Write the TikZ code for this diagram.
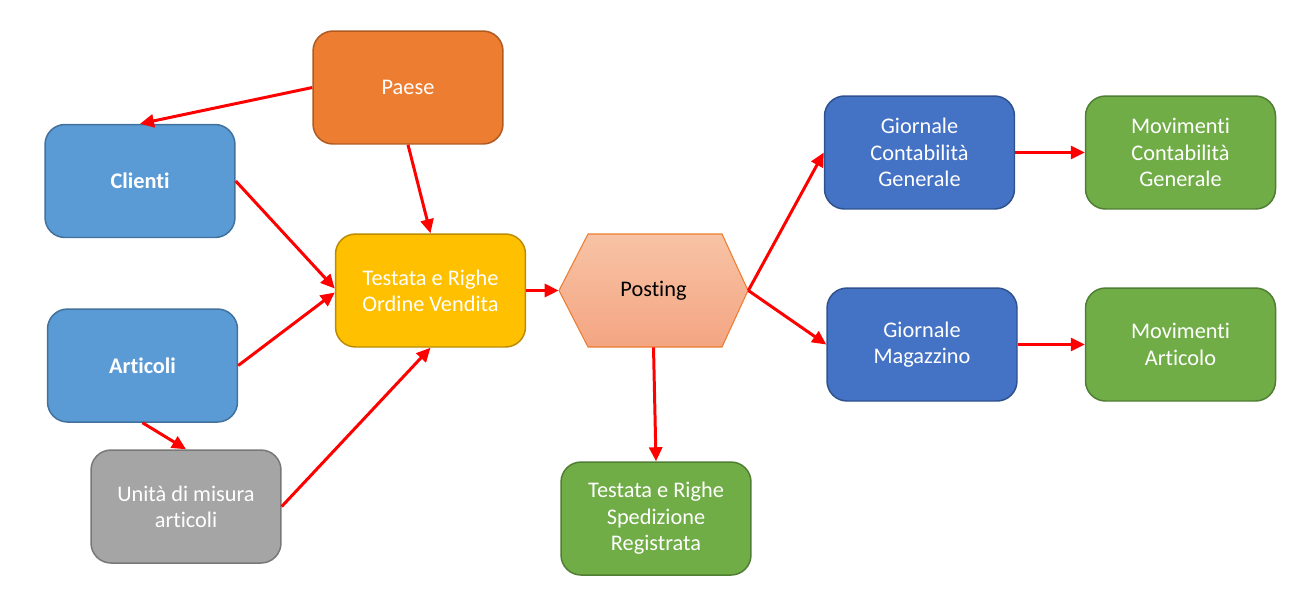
\documentclass[tikz,border=0pt]{standalone}
\usepackage{fontspec}
\setmainfont[Ligatures=CommonOff]{Carlito}
\usetikzlibrary{positioning,arrows.meta,shapes}

\definecolor{orangeP}{HTML}{ED7D31}
\definecolor{orangeB}{HTML}{AE5A21}
\definecolor{lblue}{HTML}{5B9BD5}
\definecolor{lblueB}{HTML}{41719C}
\definecolor{dblue}{HTML}{4472C4}
\definecolor{dblueB}{HTML}{2F528F}
\definecolor{grigio}{HTML}{A5A5A5}
\definecolor{grigioB}{HTML}{787878}
\definecolor{giallo}{HTML}{FFC000}
\definecolor{gialloB}{HTML}{BC8C00}
\definecolor{verde}{HTML}{70AD47}
\definecolor{verdeB}{HTML}{507E32}
\definecolor{postTop}{HTML}{F7C3A5}
\definecolor{postBot}{HTML}{F4A582}

\begin{document}
\begin{tikzpicture}[x=0.02cm,y=-0.02cm,
  blocco/.style={rectangle, rounded corners=0.4cm, line width=0.85pt,
    minimum width=3.8cm, minimum height=2.26cm, align=center, text=white,
    font=\fontsize{12.7}{15}\selectfont},
  freccia/.style={draw=red, line width=1.7pt, -{Triangle[length=2.8mm,width=2.6mm]}}]

\useasboundingbox (0,0) rectangle (1300,593);

% sorgenti
\node[blocco, fill=orangeP, draw=orangeB] (paese) at (408,87.5) {Paese};
\node[blocco, fill=lblue, draw=lblueB, font=\fontsize{12.7}{15}\selectfont\bfseries] (clienti) at (140,181) {Clienti};
\node[blocco, fill=lblue, draw=lblueB, font=\fontsize{12.7}{15}\selectfont\bfseries] (articoli) at (142.5,365.5) {Articoli};
\node[blocco, fill=grigio, draw=grigioB] (unita) at (186,506.5) {Unità di misura\\articoli};
\node[blocco, fill=giallo, draw=gialloB] (ordine) at (430.5,290.5) {Testata e Righe\\Ordine Vendita};

% posting
\shade[top color=postTop, bottom color=postBot, draw=orangeP, line width=0.6pt]
  (559,290.5) -- (588,234) -- (722,234) -- (748,290.5) -- (722,347) -- (588,347) -- cycle;
\node[rectangle, minimum width=3.78cm, minimum height=2.26cm, font=\fontsize{12.7}{15}\selectfont] (posting) at (653.5,290.5) {Posting};

% destinazioni
\node[blocco, fill=dblue, draw=dblueB] (gcg) at (919.5,152.5) {Giornale\\Contabilità\\Generale};
\node[blocco, fill=dblue, draw=dblueB] (gm) at (922,344.5) {Giornale\\Magazzino};
\node[blocco, fill=verde, draw=verdeB] (mcg) at (1180.5,152.5) {Movimenti\\Contabilità\\Generale};
\node[blocco, fill=verde, draw=verdeB] (ma) at (1180.5,344.5) {Movimenti\\Articolo};
\node[blocco, fill=verde, draw=verdeB] (sped) at (656,518.5) {Testata e Righe\\Spedizione\\Registrata};

% frecce
\draw[freccia] (paese.west) -- (clienti.north);
\draw[freccia] (paese.south) -- (ordine.north);
\draw[freccia] (clienti.east) -- ([yshift=0.04cm]ordine.west);
\draw[freccia] (articoli.east) -- ([yshift=-0.04cm]ordine.west);
\draw[freccia] (articoli.south) -- (unita.north);
\draw[freccia] (unita.east) -- (ordine.south);
\draw[freccia] (ordine.east) -- (posting.west);
\draw[freccia] (posting.east) -- (gcg.west);
\draw[freccia] (posting.east) -- (gm.west);
\draw[freccia] (posting.south) -- (sped.north);
\draw[freccia] (gcg.east) -- (mcg.west);
\draw[freccia] (gm.east) -- (ma.west);

\end{tikzpicture}
\end{document}
